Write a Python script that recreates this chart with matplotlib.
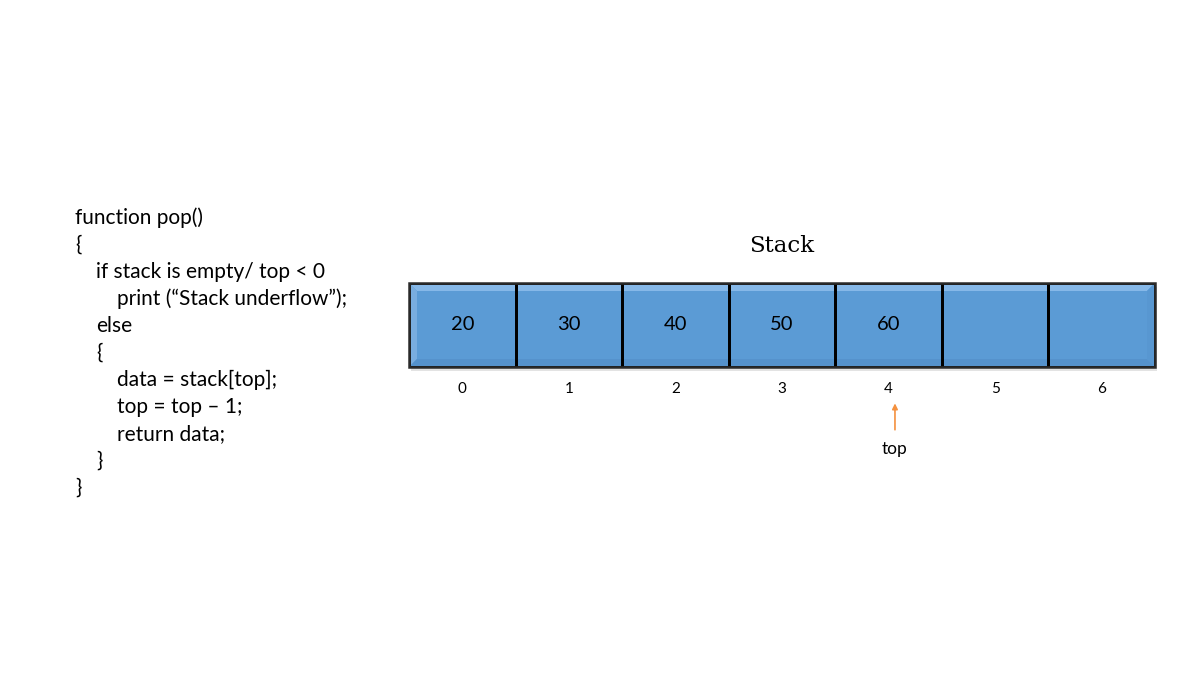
import matplotlib
matplotlib.use("Agg")
import matplotlib.pyplot as plt
from matplotlib.patches import Polygon, Rectangle

# ---- data ----
indices = [0, 1, 2, 3, 4, 5, 6]
values = ["20", "30", "40", "50", "60", "", ""]
top_index = 4
title = "Stack"
pointer_label = "top"
code_lines = [
    (0, "function pop()"),
    (0, "{"),
    (1, "if stack is empty/ top < 0"),
    (2, "print (\u201cStack underflow\u201d);"),
    (1, "else"),
    (1, "{"),
    (2, "data = stack[top];"),
    (2, "top = top \u2013 1;"),
    (2, "return data;"),
    (1, "}"),
    (0, "}"),
]

W, H = 1200, 675
fig = plt.figure(figsize=(W / 100, H / 100), dpi=100)
fig.patch.set_facecolor("white")

sans = ["Lato", "DejaVu Sans"]

# code text overlay (pixel coordinates)
ov = fig.add_axes([0, 0, 1, 1])
ov.set_xlim(0, W)
ov.set_ylim(H, 0)
ov.axis("off")
for i, (lvl, line) in enumerate(code_lines):
    ov.text(75 + 21 * lvl, 218 + 27 * i, line, fontsize=15, family=sans,
            va="center", ha="left", color="black")

# stack axes
ax = fig.add_axes([409 / W, 1 - 367 / H, 746 / W, 84 / H])
ax.set_xlim(-0.5, len(indices) - 0.5)
ax.set_ylim(0, 1)
fill = "#5B9BD5"

# shadow
ax.add_patch(Rectangle((0.003, -0.05), 1.0, 1.0, transform=ax.transAxes,
                       facecolor="#e3e3e3", edgecolor="none", zorder=0,
                       clip_on=False))
ax.bar(indices, [1] * len(indices), width=1.0, bottom=0, color=fill,
       edgecolor="none", zorder=1)

# bevel on outer box
bx, by = 8 / 746, 8 / 84
bevels = [
    ([(0, 1), (1, 1), (1 - bx, 1 - by), (bx, 1 - by)], "#86b8e8"),   # top
    ([(0, 0), (0, 1), (bx, 1 - by), (bx, by)], "#79addf"),           # left
    ([(0, 0), (1, 0), (1 - bx, by), (bx, by)], "#5592cc"),           # bottom
    ([(1, 0), (1, 1), (1 - bx, 1 - by), (1 - bx, by)], "#5897d1"),   # right
]
for pts, c in bevels:
    ax.add_patch(Polygon(pts, closed=True, transform=ax.transAxes,
                         facecolor=c, edgecolor="none", zorder=2))

# cell borders
ax.bar(indices, [1] * len(indices), width=1.0, bottom=0, color="none",
       edgecolor="black", linewidth=2, zorder=3)
ax.add_patch(Rectangle((0, 0), 1, 1, transform=ax.transAxes, fill=False,
                       edgecolor="#2a2a2a", linewidth=1.8, zorder=4, clip_on=False))

for i, v in zip(indices, values):
    ax.text(i, 0.5, v, ha="center", va="center", fontsize=14.5, family=sans,
            color="black", zorder=5)

ax.set_xticks(indices)
ax.set_xticklabels([str(i) for i in indices], fontsize=11, family=sans)
ax.tick_params(axis="x", length=0, pad=11)
ax.set_yticks([])
for s in ax.spines.values():
    s.set_visible(False)

ax.set_title(title, fontsize=16.5, family=["DejaVu Serif"], pad=22)

# top pointer
ax.annotate("", xy=(top_index + 0.06, -0.40), xycoords=("data", "axes fraction"),
            xytext=(top_index + 0.06, -0.78), textcoords=("data", "axes fraction"),
            arrowprops=dict(arrowstyle="-|>", color="#F4913F", lw=1.2,
                            mutation_scale=8))
ax.text(top_index + 0.06, -0.98, pointer_label, transform=ax.get_xaxis_transform(),
        ha="center", va="center", fontsize=12.5, family=sans)

fig.savefig("out.png", dpi=100)
